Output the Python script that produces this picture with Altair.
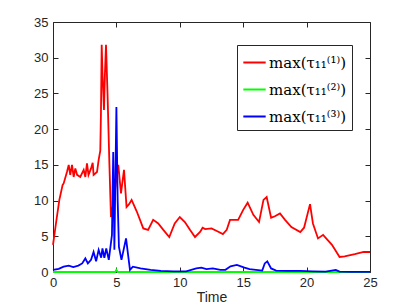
import altair as alt
import pandas as pd

red_t = [0, 0.25, 0.5, 0.76, 0.84, 1.1, 1.24, 1.36, 1.5, 1.63, 1.76, 1.9, 2.15, 2.42, 2.55, 2.68, 2.8, 3.0, 3.13, 3.2,
         3.47, 3.6, 3.73, 3.78, 3.84, 3.9, 4.02, 4.1, 4.18, 4.3, 4.45, 4.57, 4.8, 5.0, 5.15, 5.36, 5.6, 5.8, 6.0, 6.2,
         6.6, 7.12, 7.5, 7.9, 8.3, 8.7, 9.17, 9.6, 10.0, 10.4, 10.8, 11.2, 11.6, 11.8, 12.0, 12.5, 12.96, 13.4, 13.7,
         13.96, 14.6, 15.0, 15.35, 15.8, 16.25, 16.6, 16.85, 17.2, 17.5, 17.9, 18.3, 18.8, 19.5, 19.8, 20.27, 20.5,
         20.9, 21.3, 22.0, 22.6, 23.0, 23.8, 24.5, 25]
red_v = [3.8, 7, 10.1, 12.2, 12.4, 14, 15, 13.6, 15, 13.3, 14.5, 13.6, 13.3, 14.3, 13.3, 15.2, 13.6, 14.5, 15.3, 13.6,
         14.0, 15.7, 17, 22, 31.8, 28, 22.7, 28, 31.8, 25, 15, 7.7, 10, 13, 15, 11, 14.3, 9.1, 9.5, 10.1,
         8.5, 6.1, 5.9, 7.3, 6.8, 5.9, 4.9, 6.8, 7.7, 7.0, 5.9, 4.9, 5.6, 6.2, 6.0, 6.1, 5.7, 5.3, 5.9,
         7.3, 7.3, 8.7, 9.7, 8.0, 7.0, 10.1, 10.5, 7.6, 7.8, 8.2, 7.3, 6.3, 5.6, 6.2, 9.5, 6.8,
         4.7, 5.2, 3.8, 2.1, 2.2, 2.5, 2.8, 2.8]

green_t = [0, 4.9, 5.0, 5.1, 25]
green_v = [0, 0, 0.3, 0, 0]

blue_t = [0, 0.45, 0.84, 1.24, 1.6, 2.0, 2.3, 2.55, 2.75, 3.0, 3.2, 3.4, 3.6, 3.8, 3.9, 4.05, 4.2, 4.4, 4.5, 4.65,
          4.75, 4.84, 5.0, 5.1, 5.2, 5.4, 5.76, 6.07, 6.3, 6.9, 7.7, 8.5, 9.5, 10.5, 11.3, 11.7, 12.1, 12.6, 13.2,
          13.6, 14.0, 14.5, 15.1, 15.5, 16.0, 16.5, 16.7, 16.9, 17.2, 17.6, 18.5, 19.5, 20.5, 21.5, 22.3, 22.6,
          23.5, 25]
blue_v = [0.3, 0.45, 0.75, 0.9, 0.7, 0.9, 1.2, 1.9, 1.2, 1.7, 2.8, 1.5, 3.1, 2.0, 3.3, 2.0, 3.3, 1.7, 3.1, 5.2,
          16.8, 3.1, 23.1, 10, 3.5, 1.7, 4.7, 0.3, 0.75, 0.5, 0.3, 0.15, 0.1, 0.1, 0.5, 0.6, 0.4, 0.5, 0.3,
          0.3, 0.8, 1.0, 0.6, 0.4, 0.3, 0.2, 1.2, 1.5, 0.5, 0.2, 0.15, 0.15, 0.1, 0.05, 0.3, 0.05,
          0.02, 0.02]

series_names = ["max(τ₁₁⁽¹⁾)", "max(τ₁₁⁽²⁾)", "max(τ₁₁⁽³⁾)"]
series_colors = ["#ff0000", "#00ff00", "#0000ff"]
x_ticks = [0, 5, 10, 15, 20, 25]
y_ticks = [0, 5, 10, 15, 20, 25, 30, 35]

rows = []
for name, ts, vs in zip(series_names, [red_t, green_t, blue_t], [red_v, green_v, blue_v]):
    for i, (t, v) in enumerate(zip(ts, vs)):
        rows.append({"series": name, "Time": t, "value": v, "order": i})
df = pd.DataFrame(rows)

xs = alt.Scale(domain=[0, 25], nice=False)
ys = alt.Scale(domain=[0, 35], nice=False)
font = "Liberation Sans"

lines = alt.Chart(df).mark_line(strokeWidth=1.8).encode(
    x=alt.X("Time:Q", scale=xs, axis=alt.Axis(values=x_ticks, orient="bottom", grid=False, domain=False,
                                                 offset=-5, tickSize=5, labelPadding=4, titlePadding=1,
                                                 labelFlush=False, labelOverlap=False,
                                                 tickColor="#262626", labelColor="#262626", labelFontSize=13,
                                                 labelFont=font, title="Time", titleFont=font,
                                                 titleFontSize=14, titleFontWeight="normal",
                                                 titleColor="#262626")),
    y=alt.Y("value:Q", scale=ys, axis=alt.Axis(values=y_ticks, orient="left", grid=False, domain=False,
                                                 offset=-5, tickSize=5, labelPadding=5, title=None,
                                                 labelFlush=False, labelOverlap=False,
                                                 tickColor="#262626", labelColor="#262626", labelFontSize=13,
                                                 labelFont=font)),
    color=alt.Color("series:N", scale=alt.Scale(domain=series_names, range=series_colors),
                    legend=alt.Legend(title=None, orient="none", legendX=184, legendY=23,
                                      symbolType="stroke", symbolSize=500, symbolStrokeWidth=2,
                                      labelFont="DejaVu Serif", labelFontSize=15, labelColor="#000000",
                                      strokeColor="#262626", fillColor="white", padding=5,
                                      rowPadding=6, symbolOffset=0, labelOffset=2)),
    order="order:Q",
)

frame = alt.Chart(df).mark_point(opacity=0).encode(
    x=alt.X("Time:Q", scale=xs, axis=alt.Axis(values=x_ticks, orient="top", grid=False, domain=False,
                                                 offset=-5, tickSize=5, labels=False, title=None,
                                                 tickColor="#262626")),
    y=alt.Y("value:Q", scale=ys, axis=alt.Axis(values=y_ticks, orient="right", grid=False, domain=False,
                                                 offset=-5, tickSize=5, labels=False, title=None,
                                                 tickColor="#262626")),
)

chart = alt.layer(lines, frame).resolve_axis(x="independent", y="independent").properties(
    width=317, height=250,
    autosize=alt.AutoSizeParams(type="none"),
    padding={"left": 45, "top": 14, "right": 30, "bottom": 34},
).configure_view(stroke="#262626", strokeWidth=1)

chart.save("out.html", embed_options={"renderer": "svg", "actions": False})
